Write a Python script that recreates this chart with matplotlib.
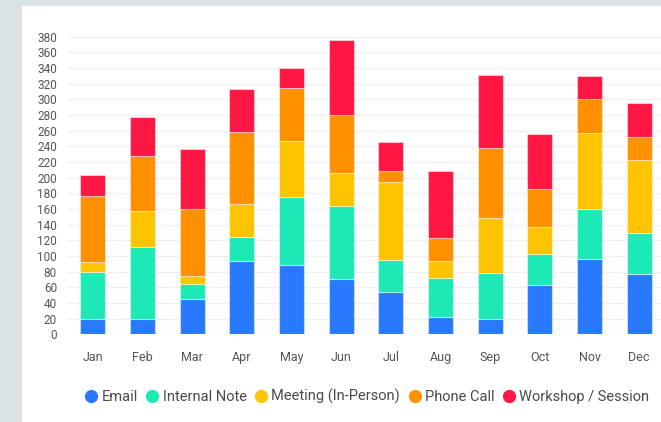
"""
Stacked monthly activity chart: counts per activity type, per month.
"""

import numpy as np
import matplotlib.pyplot as plt
from matplotlib.patches import Rectangle
from matplotlib.lines import Line2D

plt.rcParams['font.family'] = ['Roboto', 'DejaVu Sans']

# Data
months = ['Jan', 'Feb', 'Mar', 'Apr', 'May', 'Jun',
          'Jul', 'Aug', 'Sep', 'Oct', 'Nov', 'Dec']
email = [19, 19, 45, 94, 88, 71, 54, 22, 20, 63, 96, 77]
internal_note = [60, 93, 19, 30, 87, 93, 41, 50, 58, 39, 64, 52]
meeting = [13, 46, 11, 42, 72, 42, 100, 22, 71, 35, 97, 94]
phone_call = [85, 70, 85, 92, 67, 74, 14, 29, 89, 49, 43, 29]
workshop = [26, 50, 77, 55, 26, 96, 37, 85, 93, 70, 30, 43]

series_names = ['Email', 'Internal Note', 'Meeting (In-Person)',
                'Phone Call', 'Workshop / Session']
series_colors = ['#2979FF', '#1DE9B6', '#FFC400', '#FF9100', '#FF1744']


def main():
    fig = plt.figure(figsize=(6.61, 4.22), dpi=100, facecolor='#dbe2e6')

    # White card behind the chart
    fig.patches.append(Rectangle((22 / 661, 0), 1, (422 - 6) / 422,
                                 transform=fig.transFigure,
                                 facecolor='white', edgecolor='none', zorder=-5))

    ax = fig.add_axes([68 / 661, 87.7 / 422, 596 / 661, 297.6 / 422])
    ax.set_facecolor('none')

    x = np.arange(len(months))
    bottom = np.zeros(len(months))
    all_series = [email, internal_note, meeting, phone_call, workshop]
    for vals, name, col in zip(all_series, series_names, series_colors):
        ax.bar(x, vals, width=0.5, bottom=bottom, color=col, label=name,
               edgecolor=(1, 1, 1, 0.45), linewidth=0.8, zorder=3)
        bottom += np.array(vals)

    ax.set_xlim(-0.5, 11.5)
    ax.set_ylim(0, 380)
    ax.set_yticks(np.arange(0, 381, 20))
    ax.set_xticks(x)
    ax.set_xticklabels(months)
    ax.grid(axis='y', color='#f0f0f0', linewidth=1, zorder=0)
    for s in ax.spines.values():
        s.set_visible(False)
    ax.tick_params(axis='y', length=0, pad=8, labelsize=8.5, labelcolor='#555555')
    ax.tick_params(axis='x', length=0, pad=12, labelsize=9, labelcolor='#555555')

    # Legend with round markers, centred under the plot
    handles = [Line2D([], [], marker='o', linestyle='none', markersize=8.5,
                      markerfacecolor=c, markeredgecolor=c) for c in series_colors]
    ax.legend(handles, series_names, loc='center', bbox_to_anchor=(0.5, -0.21),
              ncol=5, frameon=False, fontsize=10.5, handletextpad=0.1,
              columnspacing=0.4, handlelength=1.2, labelcolor='#4a4a4a')

    fig.savefig('out.png', dpi=100)


if __name__ == '__main__':
    main()
